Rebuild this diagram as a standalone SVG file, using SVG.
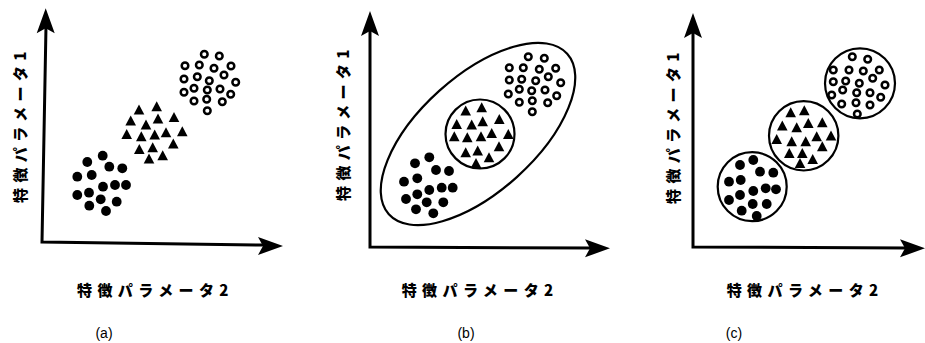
<svg xmlns="http://www.w3.org/2000/svg" xmlns:xlink="http://www.w3.org/1999/xlink" width="925" height="343" viewBox="0 0 925 343">
<style>
.axis{fill:none;stroke:#000;stroke-width:3;stroke-linecap:square}
.hull{fill:none;stroke:#000;stroke-width:2.2}
.lbl{font-family:"Noto Sans CJK JP","Noto Sans",sans-serif;font-size:15px;font-weight:900;letter-spacing:5.4px;fill:#000}
.cap{font-family:"Liberation Sans",Arial,sans-serif;font-size:14px;fill:#000;text-anchor:middle}
</style>
<defs>
<path id="ah" d="M0,0 L-25,-9 L-20,0 L-25,9 Z" fill="#000"/>
<circle id="d" r="4.9" fill="#000"/>
<circle id="o" r="3.3" fill="none" stroke="#000" stroke-width="2.5"/>
<path id="t" d="M0,-5.4 L5.3,4.6 L-5.3,4.6 Z" fill="#000"/>
</defs>
<rect width="925" height="343" fill="#fff"/>

<g id="axes">
<path class="axis" d="M46,26 L42,242 L262,245"/>
<use href="#ah" transform="translate(45.7,8.3) rotate(-90)"/>
<use href="#ah" transform="translate(283,246)"/>
<path class="axis" d="M370,30 L370,247 L590,248"/>
<use href="#ah" transform="translate(370,11) rotate(-90)"/>
<use href="#ah" transform="translate(610,248.3)"/>
<path class="axis" d="M693,32 L693,247 L905,248"/>
<use href="#ah" transform="translate(693,13) rotate(-90)"/>
<use href="#ah" transform="translate(925,248.3)"/>
</g>

<g id="panel-a">
<g id="a-filled">
<use href="#d" x="102.7" y="155.7"/><use href="#d" x="87.3" y="162"/><use href="#d" x="109.3" y="166.7"/><use href="#d" x="122.3" y="168.3"/><use href="#d" x="77.3" y="176.7"/><use href="#d" x="91.7" y="175"/><use href="#d" x="103" y="186.7"/><use href="#d" x="115" y="185"/><use href="#d" x="126" y="185"/><use href="#d" x="77.3" y="195"/><use href="#d" x="89" y="192.7"/><use href="#d" x="100.7" y="199.3"/><use href="#d" x="116.7" y="201.7"/><use href="#d" x="89.3" y="205.7"/><use href="#d" x="106" y="211"/>
</g>
<g id="a-tri">
<use href="#t" x="139" y="110"/><use href="#t" x="156.7" y="106.7"/><use href="#t" x="130.7" y="121"/><use href="#t" x="146" y="125"/><use href="#t" x="158" y="119"/><use href="#t" x="174" y="117.3"/><use href="#t" x="126.7" y="134.3"/><use href="#t" x="141.3" y="136.7"/><use href="#t" x="154.7" y="135"/><use href="#t" x="166" y="132.7"/><use href="#t" x="182.3" y="131.7"/><use href="#t" x="139.3" y="149.3"/><use href="#t" x="152.7" y="147.7"/><use href="#t" x="173.3" y="144"/><use href="#t" x="149" y="159"/><use href="#t" x="162.7" y="155.7"/>
</g>
<g id="a-open">
<use href="#o" x="204.3" y="54.3"/><use href="#o" x="219.3" y="56"/><use href="#o" x="185" y="65.7"/><use href="#o" x="199.3" y="65"/><use href="#o" x="214" y="68.3"/><use href="#o" x="231" y="66"/><use href="#o" x="184" y="79"/><use href="#o" x="197.3" y="76.7"/><use href="#o" x="209.3" y="80.7"/><use href="#o" x="224" y="75"/><use href="#o" x="235.7" y="82.3"/><use href="#o" x="184" y="92.3"/><use href="#o" x="194" y="88.3"/><use href="#o" x="207.3" y="90"/><use href="#o" x="220" y="89"/><use href="#o" x="230.7" y="94.3"/><use href="#o" x="194" y="101"/><use href="#o" x="206.7" y="99.3"/><use href="#o" x="222.3" y="101.7"/><use href="#o" x="207.3" y="110.7"/>
</g>
<text class="lbl" transform="translate(25.6,203) rotate(-90)">特徴パラメータ1</text>
<text class="lbl" x="77" y="296">特徴パラメータ2</text>
<text class="cap" x="104" y="338">(a)</text>
</g>

<g id="panel-b">
<ellipse class="hull" cx="478" cy="134" rx="120" ry="58" transform="rotate(-42 478 134)"/>
<circle class="hull" cx="480" cy="134" r="34.5"/>
<g id="b-filled">
<use href="#d" x="429.3" y="157.3"/><use href="#d" x="415" y="163.3"/><use href="#d" x="436" y="170"/><use href="#d" x="449" y="171"/><use href="#d" x="404" y="181.7"/><use href="#d" x="417.3" y="178.3"/><use href="#d" x="429.3" y="190"/><use href="#d" x="441.7" y="187.7"/><use href="#d" x="452.7" y="187.7"/><use href="#d" x="406" y="199"/><use href="#d" x="417.3" y="194.3"/><use href="#d" x="426.7" y="202.3"/><use href="#d" x="443.3" y="202.3"/><use href="#d" x="416" y="209.3"/><use href="#d" x="433.3" y="213.3"/>
</g>
<g id="b-tri">
<use href="#t" x="465.7" y="111"/><use href="#t" x="481.7" y="107.7"/><use href="#t" x="456.7" y="124.3"/><use href="#t" x="471.7" y="125"/><use href="#t" x="482.7" y="121.7"/><use href="#t" x="499.3" y="119.3"/><use href="#t" x="454.3" y="136.7"/><use href="#t" x="467.3" y="137.7"/><use href="#t" x="481" y="136.7"/><use href="#t" x="491.7" y="133.3"/><use href="#t" x="508.3" y="134.3"/><use href="#t" x="465.7" y="152.7"/><use href="#t" x="477.7" y="151"/><use href="#t" x="499" y="146.7"/><use href="#t" x="476" y="163.3"/><use href="#t" x="489" y="157.7"/>
</g>
<g id="b-open">
<use href="#o" x="528.3" y="56.7"/><use href="#o" x="544.3" y="58.3"/><use href="#o" x="509.3" y="67.7"/><use href="#o" x="523.3" y="67.7"/><use href="#o" x="539.3" y="69.3"/><use href="#o" x="555.7" y="68.3"/><use href="#o" x="509.3" y="80"/><use href="#o" x="521.7" y="79.3"/><use href="#o" x="535.7" y="80.7"/><use href="#o" x="548.3" y="76.7"/><use href="#o" x="560.7" y="82.7"/><use href="#o" x="508.3" y="94"/><use href="#o" x="519.3" y="89.3"/><use href="#o" x="531.7" y="90.7"/><use href="#o" x="545" y="90"/><use href="#o" x="556.7" y="95.7"/><use href="#o" x="519.3" y="102.3"/><use href="#o" x="532.3" y="100.7"/><use href="#o" x="547.7" y="102.7"/><use href="#o" x="532.3" y="111.7"/>
</g>
<text class="lbl" transform="translate(349,201) rotate(-90)">特徴パラメータ1</text>
<text class="lbl" x="401.7" y="296">特徴パラメータ2</text>
<text class="cap" x="466" y="338">(b)</text>
</g>

<g id="panel-c">
<circle class="hull" cx="752.2" cy="186.7" r="34.5"/>
<circle class="hull" cx="803.7" cy="135.8" r="34.7"/>
<circle class="hull" cx="860" cy="83.3" r="35"/>
<g id="c-filled">
<use href="#d" x="753.3" y="160"/><use href="#d" x="740" y="165"/><use href="#d" x="760" y="171.7"/><use href="#d" x="773.3" y="172.7"/><use href="#d" x="729" y="181.7"/><use href="#d" x="740.7" y="180"/><use href="#d" x="753.3" y="191"/><use href="#d" x="765.7" y="188.3"/><use href="#d" x="776" y="189.3"/><use href="#d" x="729" y="200"/><use href="#d" x="740" y="195"/><use href="#d" x="752.7" y="204"/><use href="#d" x="766.7" y="204"/><use href="#d" x="741.7" y="210.7"/><use href="#d" x="756.7" y="216"/>
</g>
<g id="c-tri">
<use href="#t" x="790.7" y="112.7"/><use href="#t" x="804.3" y="110.7"/><use href="#t" x="782.3" y="126"/><use href="#t" x="796.7" y="127.7"/><use href="#t" x="808.3" y="123.3"/><use href="#t" x="822.3" y="122.7"/><use href="#t" x="776.7" y="139.3"/><use href="#t" x="791.7" y="141.7"/><use href="#t" x="805.7" y="141.7"/><use href="#t" x="816.7" y="136.7"/><use href="#t" x="831" y="136"/><use href="#t" x="789.3" y="153.3"/><use href="#t" x="802.3" y="153.3"/><use href="#t" x="822.3" y="146.7"/><use href="#t" x="800" y="163.3"/><use href="#t" x="812.7" y="159.3"/>
</g>
<g id="c-open">
<use href="#o" x="852.3" y="56.7"/><use href="#o" x="867.7" y="59.3"/><use href="#o" x="833.3" y="70"/><use href="#o" x="849" y="70"/><use href="#o" x="863.3" y="71"/><use href="#o" x="879.3" y="70"/><use href="#o" x="833.3" y="81.7"/><use href="#o" x="845.7" y="81"/><use href="#o" x="859.3" y="83.3"/><use href="#o" x="872.7" y="78.3"/><use href="#o" x="885" y="85"/><use href="#o" x="831.7" y="95"/><use href="#o" x="842.7" y="90"/><use href="#o" x="856.7" y="92.7"/><use href="#o" x="870" y="92.7"/><use href="#o" x="880.7" y="97.3"/><use href="#o" x="841.7" y="104"/><use href="#o" x="856" y="102.7"/><use href="#o" x="870" y="105"/><use href="#o" x="857.3" y="114"/>
</g>
<text class="lbl" transform="translate(679,204) rotate(-90)">特徴パラメータ1</text>
<text class="lbl" x="726.7" y="296">特徴パラメータ2</text>
<text class="cap" x="734" y="338">(c)</text>
</g>
</svg>
